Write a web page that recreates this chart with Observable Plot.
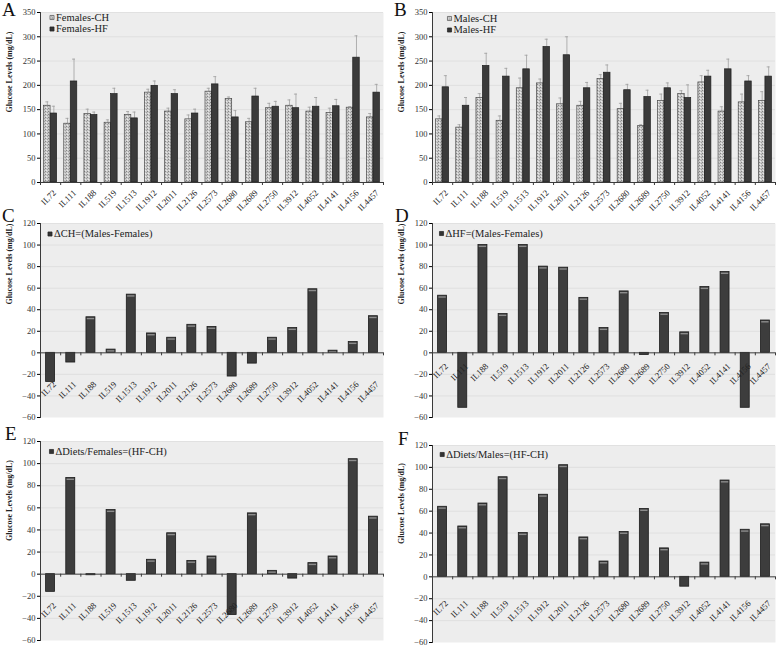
<!DOCTYPE html>
<html><head><meta charset="utf-8">
<script src="https://cdn.jsdelivr.net/npm/d3@7"></script>
<script src="https://cdn.jsdelivr.net/npm/@observablehq/plot@0.6"></script>
<style>
body{margin:0;background:#fff;}
#root{position:relative;width:778px;height:647px;overflow:hidden;font-family:"Liberation Serif",serif;}
.panel{position:absolute;}
.letter{position:absolute;font-family:"Liberation Serif",serif;font-size:19px;line-height:1;color:#111;}
</style></head><body><div id="root"></div>
<script>
const categories = ["IL72","IL111","IL188","IL519","IL1513","IL1912","IL2011","IL2126","IL2573","IL2680","IL2689","IL2750","IL3912","IL4052","IL4141","IL4156","IL4457"];

const femalesCH    = [158,121,141,123,139,185,146,130,187,172,124,153,158,146,143,154,134];
const femalesCHErr = [8,11,10,6,7,7,7,9,7,4,8,10,12,9,10,2,8];
const femalesHF    = [142,208,139,182,132,199,182,142,202,134,177,156,153,156,157,257,185];
const femalesHFErr = [15,46,6,12,13,10,9,9,16,14,17,11,29,19,14,45,17];

const malesCH    = [130,113,174,127,194,204,161,158,213,151,116,168,182,206,146,165,168];
const malesCHErr = [7,6,9,10,21,9,13,9,9,12,3,14,7,14,10,17,19];
const malesHF    = [196,158,240,218,233,279,262,194,226,190,176,194,174,218,233,208,218];
const malesHFErr = [24,17,26,17,29,16,38,12,16,12,14,11,27,13,21,12,20];

const deltaCH      = [-27,-9,33,3,54,18,14,26,24,-22,-10,14,23,59,2,10,34];
const deltaHF      = [53,-51,100,36,100,80,79,51,23,57,-2,37,19,61,75,-51,30];
const deltaFemales = [-16,87,-1,58,-6,13,37,12,16,-37,55,3,-4,10,16,104,52];
const deltaMales   = [64,46,67,91,40,75,102,36,14,41,62,26,-9,13,88,43,48];

const groupTicks = d3.range(0, 351, 50);
const deltaTicks = d3.range(-60, 121, 20);

const root = document.getElementById("root");
const FONT = "Liberation Serif, Times New Roman, serif";
let pid = 0;

function place(el, left, top) {
  const d = document.createElement("div");
  d.className = "panel"; d.style.left = left + "px"; d.style.top = top + "px";
  d.appendChild(el); root.appendChild(d);
}
function letter(t, left, top) {
  const d = document.createElement("div");
  d.className = "letter"; d.textContent = t;
  d.style.left = left + "px"; d.style.top = top + "px";
  root.appendChild(d);
}

function commonMarks(cfg, domain, ticks) {
  const plotW = cfg.width - cfg.ml - cfg.mr;
  const plotH = cfg.height - cfg.mt - cfg.mb;
  const step = plotW / categories.length;
  const k = (domain[1] - domain[0]) / plotH;
  const last = categories[categories.length - 1];
  return {step, k, before: [
    Plot.frame({fill: "#ededed", stroke: null}),
    Plot.ruleY(ticks.filter(t => t !== 0 && t !== domain[0]), {stroke: "#dcdcdc", strokeWidth: 0.8})
  ], after: [
    Plot.ruleY([0], {stroke: "#3a3a3a", strokeWidth: 1}),
    Plot.ruleX(categories, {x: d => d, y1: 0, y2: -3 * k, dx: -step / 2, stroke: "#3a3a3a"}),
    Plot.ruleX([last], {x: d => d, y1: 0, y2: -3 * k, dx: step / 2, stroke: "#3a3a3a"}),
    Plot.frame({anchor: "left", stroke: "#3a3a3a"}),
    Plot.axisY(ticks, {tickSize: 3, tickPadding: 2, fontSize: 8.5, label: null, fill: "#333"}),
    Plot.text(["Glucose Levels (mg/dL)"], {text: d => d, frameAnchor: "left", rotate: -90, dx: -31, dy: cfg.labelDy, fontSize: 8, fontWeight: "bold", fill: "#222"}),
    Plot.text(categories, {x: d => d, y: 0, text: d => d, rotate: -45, textAnchor: "end", dx: 4, dy: cfg.catDy, fontSize: 8.7, fill: "#222"})
  ]};
}

function groupPanel(cfg) {
  const id = "speckle" + (pid++);
  const domain = [0, 350];
  const {step, before, after} = commonMarks(cfg, domain, groupTicks);
  const barW = 6.5, off = barW / 2;
  const rowsCH = categories.map((c, i) => ({cat: c, v: cfg.ch[i], e: cfg.chErr[i]}));
  const rowsHF = categories.map((c, i) => ({cat: c, v: cfg.hf[i], e: cfg.hfErr[i]}));
  const errStyle = {stroke: "#a0a0a0", strokeWidth: 0.8};
  const svg = Plot.plot({
    width: cfg.width, height: cfg.height,
    marginLeft: cfg.ml, marginRight: cfg.mr, marginTop: cfg.mt, marginBottom: cfg.mb,
    style: {fontFamily: FONT, background: "transparent"},
    x: {domain: categories, padding: 0, round: false, axis: null},
    y: {domain, axis: null},
    marks: [
      ...before,
      Plot.ruleX(rowsCH, {x: "cat", y1: "v", y2: d => d.v + d.e, dx: -off, ...errStyle}),
      Plot.tickY(rowsCH, {x: "cat", y: d => d.v + d.e, insetLeft: step / 2 - off - 1.5, insetRight: step / 2 + off - 1.5, ...errStyle}),
      Plot.ruleX(rowsHF, {x: "cat", y1: "v", y2: d => d.v + d.e, dx: off, ...errStyle}),
      Plot.tickY(rowsHF, {x: "cat", y: d => d.v + d.e, insetLeft: step / 2 + off - 1.5, insetRight: step / 2 - off - 1.5, ...errStyle}),
      Plot.barY(rowsCH, {x: "cat", y: "v", fill: `url(#${id})`, stroke: "#4a4a4a", strokeWidth: 0.7, insetLeft: step / 2 - barW, insetRight: step / 2}),
      Plot.barY(rowsHF, {x: "cat", y: "v", fill: "#3b3b3b", stroke: "#1e1e1e", strokeWidth: 0.7, insetLeft: step / 2, insetRight: step / 2 - barW}),
      ...after,
      Plot.dot([0], {frameAnchor: "top-left", dx: cfg.lgX, dy: cfg.lgY, symbol: "square", r: 2.3, fill: `url(#${id})`, stroke: "#555", strokeWidth: 0.7}),
      Plot.dot([0], {frameAnchor: "top-left", dx: cfg.lgX, dy: cfg.lgY + 11.5, symbol: "square", r: 2.3, fill: "#333", stroke: "#222", strokeWidth: 0.7}),
      Plot.text([cfg.names[0]], {text: d => d, frameAnchor: "top-left", dx: cfg.lgX + 4, dy: cfg.lgY, textAnchor: "start", lineAnchor: "middle", fontSize: 10.5, fill: "#222"}),
      Plot.text([cfg.names[1]], {text: d => d, frameAnchor: "top-left", dx: cfg.lgX + 4, dy: cfg.lgY + 11.5, textAnchor: "start", lineAnchor: "middle", fontSize: 10.5, fill: "#222"})
    ]
  });
  svg.insertAdjacentHTML("afterbegin",
    `<defs><pattern id="${id}" width="3" height="3" patternUnits="userSpaceOnUse">
      <rect width="3" height="3" fill="#c9c9c9"/>
      <rect x="0" y="0" width="1" height="1" fill="#858585"/>
      <rect x="2" y="1" width="1" height="1" fill="#a0a0a0"/>
      <rect x="1" y="2" width="1" height="1" fill="#eaeaea"/>
    </pattern></defs>`);
  place(svg, cfg.left, cfg.top);
}

function deltaPanel(cfg) {
  const domain = [-60, 120];
  const {before, after} = commonMarks(cfg, domain, deltaTicks);
  const rows = categories.map((c, i) => ({cat: c, v: cfg.values[i]}));
  const svg = Plot.plot({
    width: cfg.width, height: cfg.height,
    marginLeft: cfg.ml, marginRight: cfg.mr, marginTop: cfg.mt, marginBottom: cfg.mb,
    style: {fontFamily: FONT, background: "transparent"},
    x: {domain: categories, padding: 0, round: false, axis: null},
    y: {domain, axis: null},
    marks: [
      ...before,
      Plot.barY(rows, {x: "cat", y: "v", fill: "#3d3d3d", stroke: "#1c1c1c", strokeWidth: 0.8, insetLeft: 5.6, insetRight: 5.6}),
      Plot.tickY(rows.filter(d => d.v > 1), {x: "cat", y: "v", dy: 1.3, stroke: "#8c8c8c", strokeWidth: 1.4, insetLeft: 6.4, insetRight: 6.4}),
      ...after,
      Plot.dot([0], {frameAnchor: "top-left", dx: cfg.lgX, dy: cfg.lgY, symbol: "square", r: 2.3, fill: "#333", stroke: "#222", strokeWidth: 0.7}),
      Plot.text([cfg.name], {text: d => d, frameAnchor: "top-left", dx: cfg.lgX + 4, dy: cfg.lgY, textAnchor: "start", lineAnchor: "middle", fontSize: 10.5, fill: "#222"})
    ]
  });
  place(svg, cfg.left, cfg.top);
}

groupPanel({left: 0, top: 0, width: 390, height: 215, ml: 40, mr: 7, mt: 12, mb: 33, labelDy: 15, catDy: 9,
  ch: femalesCH, chErr: femalesCHErr, hf: femalesHF, hfErr: femalesHFErr,
  names: ["Females-CH", "Females-HF"], lgX: 11.5, lgY: 5});
groupPanel({left: 390, top: 0, width: 388, height: 215, ml: 42, mr: 3, mt: 12, mb: 33, labelDy: 15, catDy: 9,
  ch: malesCH, chErr: malesCHErr, hf: malesHF, hfErr: malesHFErr,
  names: ["Males-CH", "Males-HF"], lgX: 17, lgY: 6});
deltaPanel({left: 0, top: 210, width: 390, height: 215, ml: 40, mr: 7, mt: 13, mb: 8, labelDy: -16, catDy: 30,
  values: deltaCH, name: "\u0394CH=(Males-Females)", lgX: 9.5, lgY: 10.5});
deltaPanel({left: 390, top: 210, width: 388, height: 215, ml: 42, mr: 3, mt: 13, mb: 8, labelDy: -16, catDy: 12,
  values: deltaHF, name: "\u0394HF=(Males-Females)", lgX: 9, lgY: 10});
deltaPanel({left: 0, top: 428, width: 390, height: 218, ml: 40, mr: 7, mt: 13, mb: 6, labelDy: 0, catDy: 30,
  values: deltaFemales, name: "\u0394Diets/Females=(HF-CH)", lgX: 11, lgY: 10});
deltaPanel({left: 390, top: 428, width: 388, height: 219, ml: 42, mr: 3, mt: 17, mb: 5, labelDy: 0, catDy: 25,
  values: deltaMales, name: "\u0394Diets/Males=(HF-CH)", lgX: 9.7, lgY: 9});

letter("A", 2, 0);
letter("B", 394, 0);
letter("C", 2, 206);
letter("D", 395, 206);
letter("E", 5, 424);
letter("F", 398, 429);
</script></body></html>
